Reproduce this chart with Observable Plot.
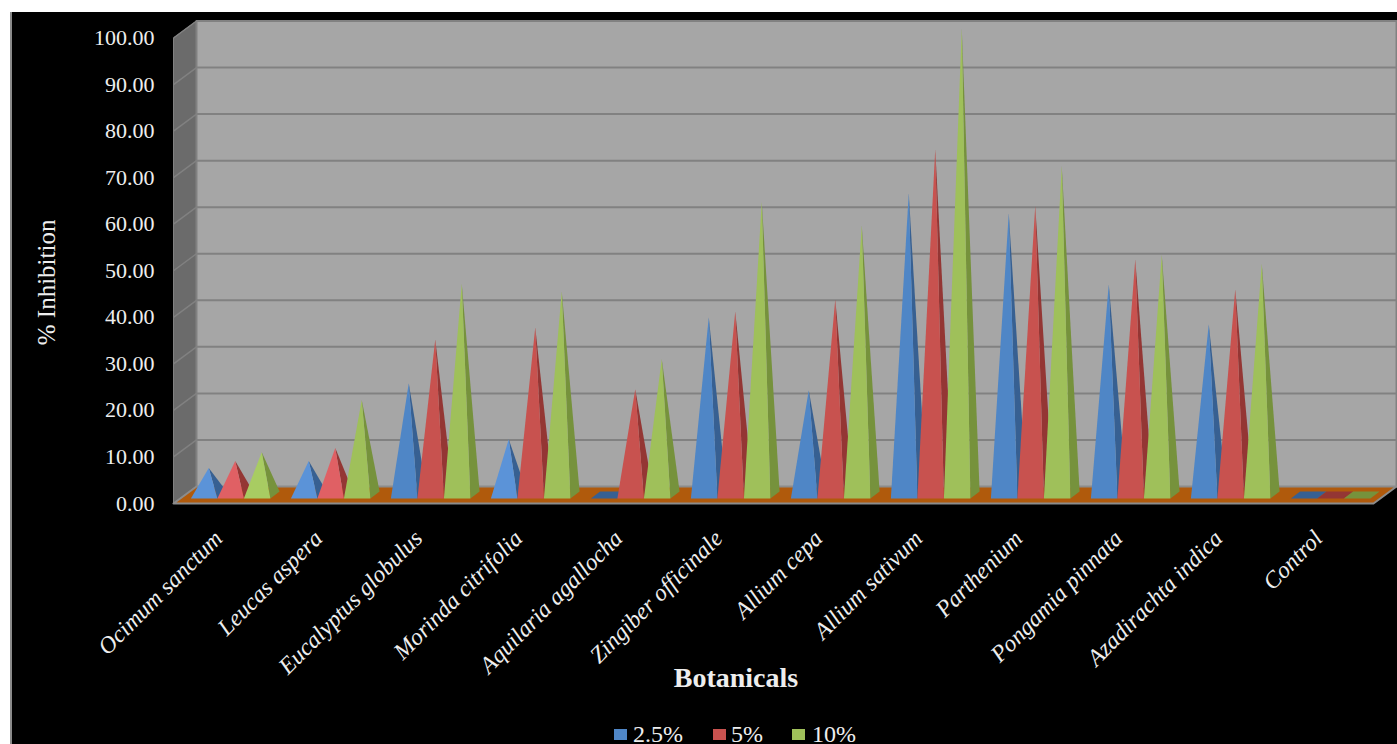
<!DOCTYPE html>
<html>
<head>
<meta charset="utf-8">
<script src="https://cdn.jsdelivr.net/npm/d3@7"></script>
<script src="https://cdn.jsdelivr.net/npm/@observablehq/plot@0.6"></script>
<style>
  html, body { margin: 0; padding: 0; background: #fff; overflow: hidden; width: 1397px; height: 744px; }
  #chart { position: absolute; left: 10px; top: 12px; border-left: 2px solid #8a8a8a; }
  #chart svg { display: block; }
  #legend { position: absolute; left: 0; top: 0; width: 1397px; height: 744px; font-family: "Liberation Serif", serif; font-size: 24px; color: #eeeeee; pointer-events: none; overflow: hidden; }
  #legend span { position: absolute; white-space: nowrap; line-height: 20px; height: 20px; }
  #legend i { position: absolute; width: 13px; height: 11px; display: block; }
</style>
</head>
<body>
<div id="chart"></div>
<div id="legend"></div>
<script>
const categories = ["Ocimum sanctum", "Leucas aspera", "Eucalyptus globulus", "Morinda citrifolia",
  "Aquilaria agallocha", "Zingiber officinale", "Allium cepa", "Allium sativum", "Parthenium",
  "Pongamia pinnata", "Azadirachta indica", "Control"];
const seriesNames = ["2.5%", "5%", "10%"];
const values25 = [5.8, 7.3, 24.0, 12.0, 0, 38.2, 22.5, 64.8, 60.5, 45.3, 36.7, 0];
const values5  = [7.3, 10.1, 33.4, 36.0, 22.7, 39.4, 42.0, 74.3, 62.2, 50.6, 44.2, 0];
const values10 = [9.2, 20.4, 45.4, 43.7, 29.2, 63.0, 57.9, 100.2, 70.7, 51.6, 49.7, 0];
const yTicks = [0, 10, 20, 30, 40, 50, 60, 70, 80, 90, 100];

const frontColors = ["#4f86c6", "#c8524f", "#9fc05a"];
const lightColors = ["#5b93d8", "#e06064", "#a8cc62"];
const sideColors  = ["#376092", "#943634", "#76923c"];
const seriesValues = [values25, values5, values10];

// the 3-D box: depth 0 is the front of the floor, depth 1 the back wall
const depthX = 0.23, depthY = 3.65;
const at = (x, y, d) => ({x: x + d * depthX, y: y + d * depthY});
const gap = 0.105, barW = 0.265, d0 = 0.3, d1 = 0.7;

const faces = [];
function poly(id, color, pts) { pts.forEach(p => faces.push({id, color, x: p.x, y: p.y})); }
categories.forEach((c, g) => seriesValues.forEach((vals, s) => {
  const v = vals[g], xl = g + gap + s * barW, xr = xl + barW, xm = xl + barW / 2;
  const fl = at(xl, 0, d0), fr = at(xr, 0, d0), bl = at(xl, 0, d1), br = at(xr, 0, d1);
  const apex = at(xm, v, (d0 + d1) / 2);
  if (v === 0) {
    poly(`${g}-${s}-b`, sideColors[s], [fl, fr, br, bl]);
  } else {
    poly(`${g}-${s}-s`, sideColors[s], [fr, apex, br]);
    poly(`${g}-${s}-f`, v < 15 ? lightColors[s] : frontColors[s], [fl, apex, fr]);
  }
}));

const leftWall = [at(0, 0, 0), at(0, 100, 0), at(0, 100, 1), at(0, 0, 1)];
const backWall = [at(0, 0, 1), at(0, 100, 1), at(12, 100, 1), at(12, 0, 1)];
const floor = [at(0, 0, 0), at(12, 0, 0), at(12, 0, 1), at(0, 0, 1)];
const gridColor = "#818181";
const serif = "Liberation Serif";
const ink = "#eeeeee";

const chart = Plot.plot({
  width: 1385, height: 732,
  marginLeft: 161, marginRight: 24, marginTop: 25.5, marginBottom: 241,
  style: {background: "#000", color: ink, fontFamily: serif, overflow: "visible"},
  x: {domain: [0, 12], axis: null},
  y: {domain: [0, 100], axis: null},
  marks: [
    Plot.line(leftWall, {x: "x", y: "y", fill: "#6b6b6b", stroke: gridColor, strokeWidth: 1}),
    Plot.line(backWall, {x: "x", y: "y", fill: "#a6a6a6", stroke: gridColor, strokeWidth: 2}),
    Plot.link(yTicks, {x1: 0, y1: d => d, x2: depthX, y2: d => d + depthY, stroke: gridColor, strokeWidth: 1.5}),
    Plot.link(yTicks.slice(1), {x1: depthX, y1: d => d + depthY, x2: 12 + depthX, y2: d => d + depthY, stroke: gridColor, strokeWidth: 2}),
    Plot.line([...floor, floor[0]], {x: "x", y: "y", fill: "#b05a0c", stroke: "#8c8c8c", strokeWidth: 2}),
    Plot.line(faces, {x: "x", y: "y", z: "id", fill: "color", stroke: null}),
    Plot.axisY({ticks: yTicks, tickFormat: d3.format(".2f"), tickSize: 0, tickPadding: 19, label: null,
      fontSize: 22, fontFamily: serif, fill: ink}),
    Plot.text(categories, {x: (d, i) => i + 0.5, y: 0, dx: -5, dy: 31, rotate: -45, textAnchor: "end",
      text: d => d, fontSize: 23.6, fontStyle: "italic", fontFamily: serif, fill: ink}),
    Plot.text(["% Inhibition"], {x: 0, y: 47.5, dx: -127, rotate: -90, text: d => d,
      fontSize: 25, fontFamily: serif, fill: ink}),
    Plot.text(["Botanicals"], {x: 5.625, y: 0, dy: 175, text: d => d,
      fontSize: 28, fontWeight: "bold", fontFamily: serif, fill: ink})
  ]
});
document.getElementById("chart").append(chart);

const legend = document.getElementById("legend");
const legendSwatchX = [614, 713, 792], legendTextX = [633, 731, 812];
seriesNames.forEach((name, i) => {
  const sw = document.createElement("i");
  sw.style.cssText = `left:${legendSwatchX[i]}px;top:729px;background:${frontColors[i]}`;
  const t = document.createElement("span");
  t.style.cssText = `left:${legendTextX[i]}px;top:724px`;
  t.textContent = name;
  legend.append(sw, t);
});
</script>
</body>
</html>
